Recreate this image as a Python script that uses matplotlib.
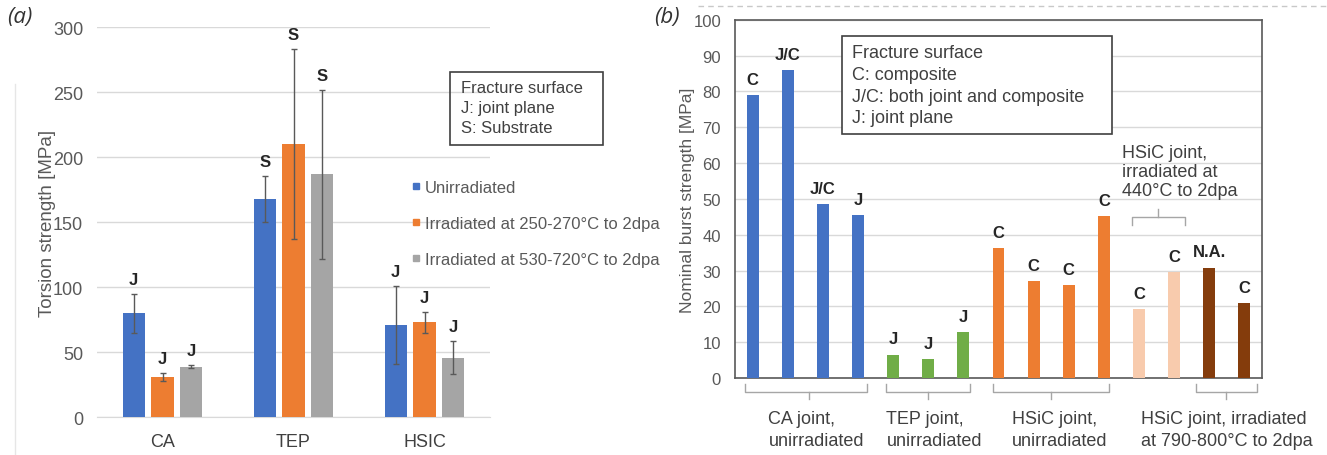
import matplotlib
matplotlib.use("Agg")
import matplotlib.pyplot as plt
import matplotlib.patches as patches
from matplotlib.lines import Line2D
import numpy as np

plt.rcParams['font.family'] = ['Liberation Sans', 'DejaVu Sans']

W, H = 1327, 456

# ---- panel (a) data ----
groups_a = ['CA', 'TEP', 'HSIC']
series_a = ['Unirradiated', 'Irradiated at 250-270°C to 2dpa', 'Irradiated at 530-720°C to 2dpa']
colors_a = ['#4472C4', '#ED7D31', '#A5A5A5']
vals_a = [[80, 168, 71],
          [31, 210, 73],
          [39, 187, 46]]
err_a = [[15, 18, 30],
         [3, 73, 8],
         [1, 65, 13]]
marks_a = [['J', 'S', 'J'],
           ['J', 'S', 'J'],
           ['J', 'S', 'J']]

# ---- panel (b) data ----
vals_b = [79, 86, 48.5, 45.5, 6.5, 5.2, 12.8, 36.2, 27, 26, 45.2, 19.3, 29.6, 30.8, 20.8]
marks_b = ['C', 'J/C', 'J/C', 'J', 'J', 'J', 'J', 'C', 'C', 'C', 'C', 'C', 'C', 'N.A.', 'C']
colors_b = ['#4472C4'] * 4 + ['#70AD47'] * 3 + ['#ED7D31'] * 4 + ['#F8CBAD'] * 2 + ['#843C0C'] * 2
group_labels_b = ['CA joint,\nunirradiated', 'TEP joint,\nunirradiated',
                  'HSiC joint,\nunirradiated', 'HSiC joint, irradiated\nat 790-800°C to 2dpa']
brackets_b = [(-0.22, 3.25, 1.6), (3.81, 6.2, 5.0), (6.83, 10.15, 8.5), (12.63, 14.35, 13.48)]
label_x_b = [0.45, 3.81, 7.39, 11.06]


def fx(p):
    return p / W


def fy(p):
    return 1 - p / H


fig = plt.figure(figsize=(W / 100, H / 100), dpi=100)

# ================= panel (a) =================
ax1 = fig.add_axes([fx(97), fy(418.3), 393 / W, 390 / H])
x = np.arange(len(groups_a))
offs = [-0.22, 0, 0.22]
for i in range(3):
    ax1.bar(x + offs[i], vals_a[i], 0.17, color=colors_a[i], zorder=3,
            yerr=err_a[i], error_kw=dict(ecolor='#595959', elinewidth=1, capsize=2, capthick=1))
    for j in range(3):
        top = vals_a[i][j] + err_a[i][j]
        ax1.annotate(marks_a[i][j], (x[j] + offs[i], top), xytext=(0, 5), textcoords='offset points',
                     ha='center', va='bottom', fontsize=12, fontweight='bold', color='#262626')

ax1.set_xlim(-0.5, 2.5)
ax1.set_ylim(0, 300)
ax1.set_yticks(range(0, 301, 50))
ax1.set_xticks(x)
ax1.set_xticklabels(groups_a)
ax1.grid(axis='y', color='#D9D9D9', lw=1, zorder=0)
ax1.set_axisbelow(True)
for s in ['top', 'right', 'left']:
    ax1.spines[s].set_visible(False)
ax1.spines['bottom'].set_color('#D9D9D9')
ax1.tick_params(axis='both', length=0, labelsize=13, labelcolor='#404040')
ax1.tick_params(axis='y', pad=10, labelcolor='#595959')
ax1.tick_params(axis='x', pad=11)
ax1.set_ylabel('Torsion strength [MPa]', fontsize=13.5, color='#595959')
ax1.yaxis.set_label_coords(-0.105, 0.5)

handles = [Line2D([], [], marker='s', ls='', color=c, markersize=5) for c in colors_a]
fig.legend(handles, series_a, loc='upper left', bbox_to_anchor=(fx(408), fy(181)),
           frameon=False, fontsize=12, handletextpad=0.0, labelspacing=1.25,
           borderpad=0, borderaxespad=0, labelcolor='#595959', handlelength=1.0)

fig.add_artist(patches.Rectangle((fx(450), fy(146)), 153 / W, 73 / H, transform=fig.transFigure,
                                 fill=False, ec='#404040', lw=1.2))
fig.text(fx(461), fy(81), 'Fracture surface\nJ: joint plane\nS: Substrate', fontsize=12,
         va='top', ha='left', linespacing=1.43, color='#404040')

fig.text(fx(7), fy(18), '(a)', fontsize=16, style='italic', family='Open Sans', va='center', color='#333333')
fig.add_artist(Line2D([fx(15), fx(15)], [fy(85), 0], transform=fig.transFigure, color='#E6E6E6', lw=1))

# ================= panel (b) =================
ax2 = fig.add_axes([fx(735), fy(379), 527 / W, 358.3 / H])
xb = np.arange(len(vals_b))
ax2.bar(xb, vals_b, 0.34, color=colors_b, zorder=3)
for i, v in enumerate(vals_b):
    ax2.annotate(marks_b[i], (xb[i], v), xytext=(0, 6), textcoords='offset points',
                 ha='center', va='bottom', fontsize=12, fontweight='bold', color='#262626')
ax2.set_xlim(-0.5, 14.5)
ax2.set_ylim(0, 100)
ax2.set_yticks(range(0, 101, 10))
ax2.set_xticks([])
ax2.grid(axis='y', color='#D9D9D9', lw=1, zorder=0)
ax2.set_axisbelow(True)
for s in ax2.spines.values():
    s.set_color('#595959')
    s.set_linewidth(1.2)
ax2.tick_params(axis='y', length=0, labelsize=12, labelcolor='#595959', pad=10)
ax2.set_ylabel('Nominal burst strength [MPa]', fontsize=12.5, color='#595959')
ax2.yaxis.set_label_coords(-0.076, 0.5)

bc = '#A6A6A6'
for (x0, x1, xc) in brackets_b:
    ax2.plot([x0, x0, x1, x1], [-1.7, -3.9, -3.9, -1.7], color=bc, lw=1, clip_on=False)
    ax2.plot([xc, xc], [-3.9, -5.9], color=bc, lw=1, clip_on=False)
for lx, lab in zip(label_x_b, group_labels_b):
    ax2.text(lx, -9.0, lab, ha='left', va='top', fontsize=13, linespacing=1.37, color='#404040')

# bracket for the 440C pair
ax2.plot([10.79, 10.79, 12.31, 12.31], [42.6, 44.8, 44.8, 42.6], color=bc, lw=1)
ax2.plot([11.55, 11.55], [44.8, 47.1], color=bc, lw=1)
ax2.text(10.52, 65.3, 'HSiC joint,\nirradiated at\n440°C to 2dpa', ha='left', va='top',
         fontsize=13, linespacing=1.15, color='#404040')

fig.add_artist(patches.Rectangle((fx(842), fy(135)), 270 / W, 98 / H, transform=fig.transFigure,
                                 fc='white', ec='#404040', lw=1.2, zorder=5))
fig.text(fx(852), fy(45), 'Fracture surface\nC: composite\nJ/C: both joint and composite\nJ: joint plane',
         fontsize=13, va='top', ha='left', linespacing=1.37, color='#404040', zorder=6)

fig.text(fx(654), fy(18), '(b)', fontsize=16, style='italic', family='Open Sans', va='center', color='#333333')
fig.add_artist(Line2D([fx(698), 1], [fy(7), fy(7)], transform=fig.transFigure, color='#C8C8C8',
                      lw=1, ls=(0, (4, 3))))

fig.savefig('out.png', dpi=100)
